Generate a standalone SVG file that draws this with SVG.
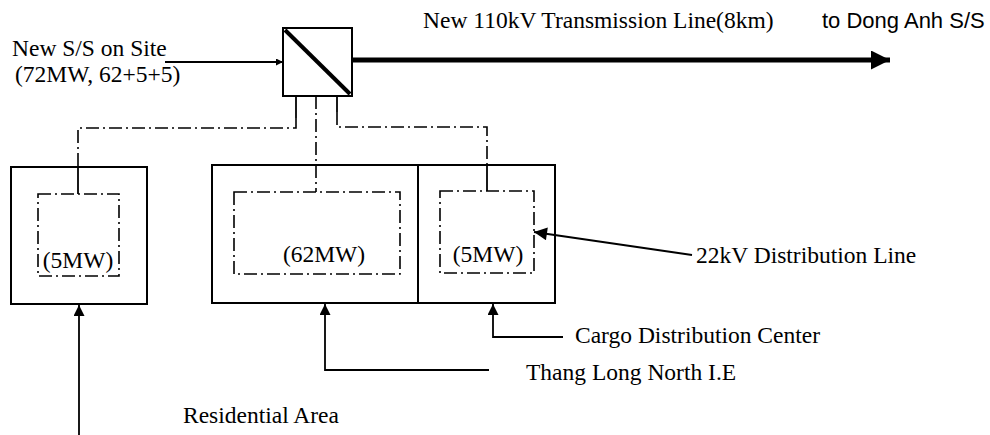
<svg xmlns="http://www.w3.org/2000/svg" width="990" height="435" viewBox="0 0 990 435">
<style>
text{font-family:"Liberation Serif","Times New Roman",serif;font-size:23.5px;fill:#000}
.sans{font-family:"Liberation Sans",Arial,sans-serif;font-size:22px}
.box{fill:none;stroke:#000;stroke-width:2}
.dd{fill:none;stroke:#000;stroke-width:1.6;stroke-dasharray:13 4 2 4}
.ln{fill:none;stroke:#000;stroke-width:1.8}
</style>
<defs>
<marker id="ah" viewBox="0 0 10 10" refX="10" refY="5" markerUnits="userSpaceOnUse" markerWidth="18" markerHeight="11" orient="auto"><path d="M0,0L10,5L0,10z" fill="#000"/></marker>
<marker id="ahd" viewBox="0 0 10 10" refX="10" refY="5" markerUnits="userSpaceOnUse" markerWidth="22" markerHeight="13" orient="auto"><path d="M0,0L10,5L0,10z" fill="#000"/></marker>
<marker id="ahs" viewBox="0 0 10 10" refX="10" refY="5" markerUnits="userSpaceOnUse" markerWidth="22" markerHeight="7" orient="auto"><path d="M0,0L10,5L0,10z" fill="#000"/></marker>
<marker id="ahb" viewBox="0 0 10 10" refX="10" refY="5" markerUnits="userSpaceOnUse" markerWidth="32" markerHeight="19" orient="auto"><path d="M0,0L10,5L0,10z" fill="#000"/></marker>
</defs>
<rect width="990" height="435" fill="#fff"/>

<g id="substation">
<rect class="box" x="283" y="28" width="69" height="68"/>
<line x1="285" y1="30" x2="350" y2="94" stroke="#000" stroke-width="4"/>
<text x="12" y="56">New S/S on Site</text>
<text x="15" y="82">(72MW, 62+5+5)</text>
</g>

<g id="residential">
<rect class="box" x="11" y="167" width="136" height="137"/>
<rect class="dd" x="38" y="194" width="81" height="82"/>
<text x="78" y="268" text-anchor="middle">(5MW)</text>
</g>

<g id="thanglong">
<rect class="box" x="212" y="165" width="206" height="138"/>
<rect class="dd" x="234" y="192" width="166" height="82"/>
<text x="324" y="262" text-anchor="middle">(62MW)</text>
</g>

<g id="cargo">
<rect class="box" x="418" y="165" width="137" height="138"/>
<rect class="dd" x="440" y="191" width="94" height="82"/>
<text x="488" y="262" text-anchor="middle">(5MW)</text>
</g>

<g id="labels">
<text x="423" y="28">New 110kV Transmission Line(8km)</text>
<text class="sans" x="822" y="28">to Dong Anh S/S</text>
<text x="696" y="263">22kV Distribution Line</text>
<text x="575" y="343">Cargo Distribution Center</text>
<text x="526" y="380">Thang Long North I.E</text>
<text x="183" y="423">Residential Area</text>
</g>

<g id="connectors">
<line x1="165" y1="62" x2="283" y2="62" stroke="#000" stroke-width="2" marker-end="url(#ahs)"/>
<line x1="352" y1="60" x2="890" y2="60" stroke="#000" stroke-width="5" marker-end="url(#ahb)"/>
<path class="ln" d="M296,96V118"/>
<path class="dd" d="M296,118V128H78V167"/>
<path class="ln" d="M78,167V194"/>
<path class="dd" d="M316,96V192"/>
<path class="ln" d="M337,96V112"/>
<path class="dd" d="M337,112V127H487V165"/>
<path class="ln" d="M487,165V191"/>
<line x1="692" y1="255" x2="534" y2="232" stroke="#000" stroke-width="2" marker-end="url(#ahd)"/>
<path class="ln" d="M563,337H493V304" marker-end="url(#ah)"/>
<path class="ln" d="M489,370H325V304" marker-end="url(#ah)"/>
<path class="ln" d="M79,435V305" stroke-width="2.2" marker-end="url(#ah)"/>
</g>
</svg>
